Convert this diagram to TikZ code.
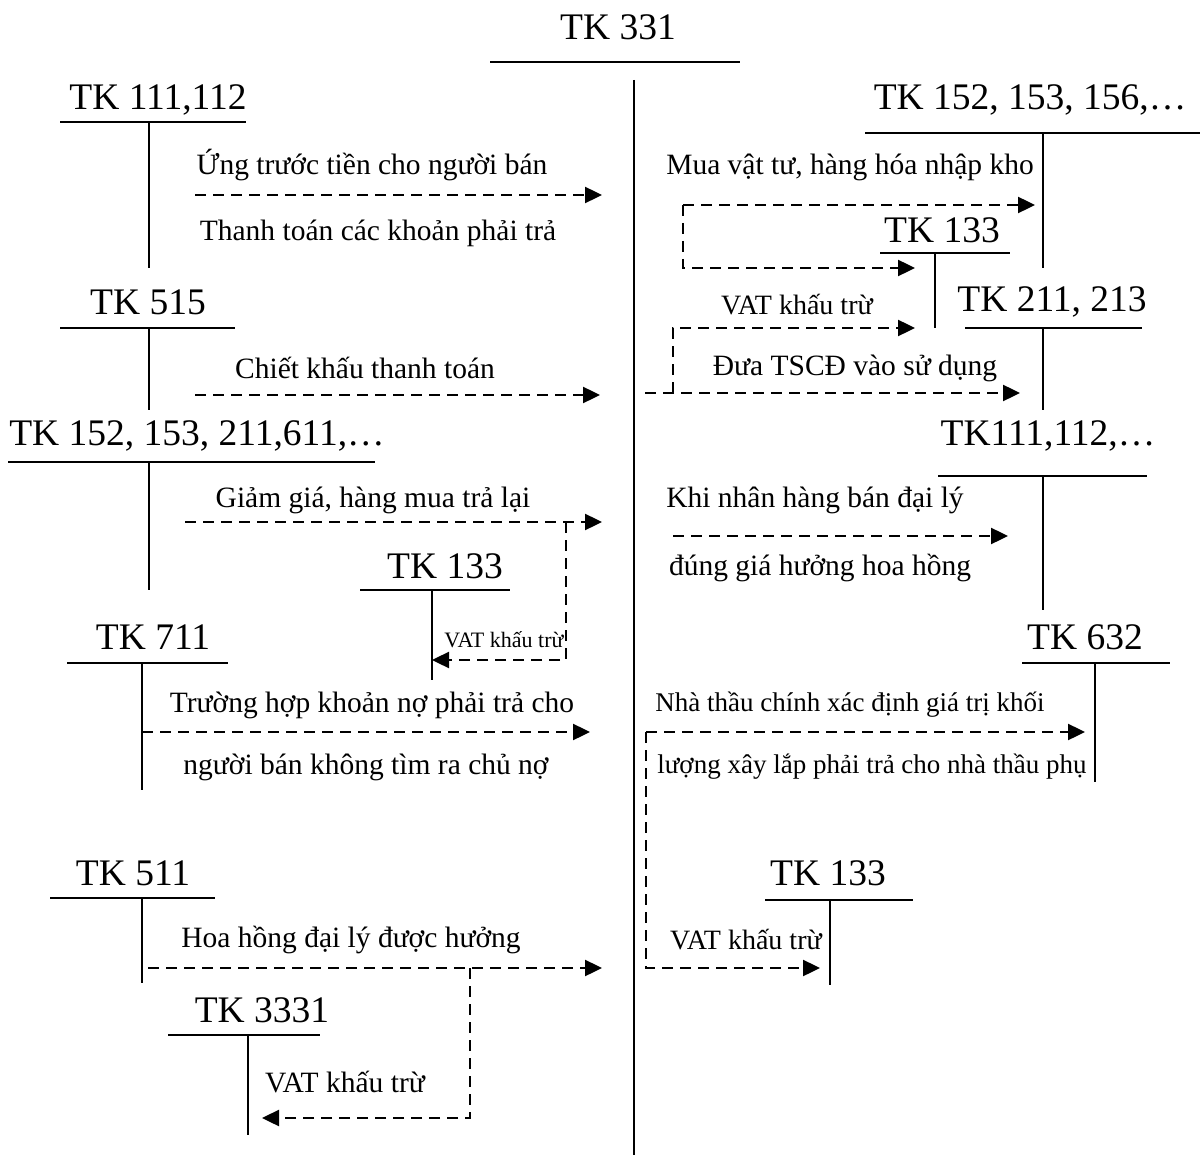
\documentclass[tikz,border=0pt]{standalone}
\usepackage{fontspec}
\setmainfont{Liberation Serif}
\usetikzlibrary{arrows.meta}
\begin{document}
\begin{tikzpicture}[x=1pt,y=-1pt,
  acct/.style={font=\fontsize{37.5}{40}\selectfont, inner sep=0pt},
  desc/.style={font=\fontsize{29.5}{32}\selectfont, inner sep=0pt},
  descsmall/.style={font=\fontsize{27}{30}\selectfont, inner sep=0pt},
  vat/.style={font=\fontsize{28}{30}\selectfont, inner sep=0pt},
  vatsmall/.style={font=\fontsize{22}{24}\selectfont, inner sep=0pt},
  rule/.style={line width=2pt},
  branch/.style={line width=2.4pt, dash pattern=on 11pt off 7pt},
  flow/.style={branch, -{Triangle[length=17pt,width=16pt]}},
]
\useasboundingbox (0,0) rectangle (1202,1155);

% main account
\node[acct] (t331) at (618,27) {TK 331};
\draw[rule] (490,62) coordinate (t331l) -- (740,62) coordinate (t331r);
\draw[rule] (634,80) coordinate (mtop) -- (634,1155) coordinate (mbot);

% ---------- left side ----------
\node[acct] (a111) at (158,100) {TK 111,112};
\draw[rule] (60,122) -- (246,122);
\draw[rule] (149,122) -- (149,268);
\node[desc] (d1) at (372,165) {Ứng trước tiền cho người bán};
\node[desc] (d2) at (378,233) {Thanh toán các khoản phải trả};
\coordinate (f1s) at (195,195); \coordinate (f1e) at (602,195);
\draw[flow] (f1s) -- (f1e);

\node[acct] (a515) at (148,302) {TK 515};
\draw[rule] (60,328) -- (235,328);
\draw[rule] (149,328) -- (149,410);
\node[desc] (d3) at (365,368) {Chiết khấu thanh toán};
\coordinate (f2s) at (195,395); \coordinate (f2e) at (600,395);
\draw[flow] (f2s) -- (f2e);

\node[acct] (a152l) at (197,436) {TK 152, 153, 211,611,…};
\draw[rule] (8,462) -- (375,462);
\draw[rule] (149,462) -- (149,590);
\node[desc] (d4) at (373,500) {Giảm giá, hàng mua trả lại};
\coordinate (f3s) at (185,522); \coordinate (f3e) at (602,522);
\draw[flow] (f3s) -- (f3e);

\node[acct] (a133l) at (445,566) {TK 133};
\draw[rule] (360,590) -- (510,590);
\draw[rule] (432,590) -- (432,680);
\node[vatsmall] (v1) at (504,640) {VAT khấu trừ};
\coordinate (b3s) at (566,522); \coordinate (b3e) at (432,660);
\draw[flow] (b3s) |- (b3e);

\node[acct] (a711) at (153,637) {TK 711};
\draw[rule] (67,663) -- (228,663);
\draw[rule] (142,663) -- (142,790);
\node[desc] (d5) at (372,705) {Trường hợp khoản nợ phải trả cho};
\node[desc] (d6) at (366,767) {người bán không tìm ra chủ nợ};
\coordinate (f4s) at (142,732); \coordinate (f4e) at (590,732);
\draw[flow] (f4s) -- (f4e);

\node[acct] (a511) at (133,873) {TK 511};
\draw[rule] (50,898) -- (215,898);
\draw[rule] (142,898) -- (142,983);
\node[desc] (d7) at (351,940) {Hoa hồng đại lý được hưởng};
\coordinate (f5s) at (148,968); \coordinate (f5e) at (602,968);
\draw[flow] (f5s) -- (f5e);

\node[acct] (a3331) at (262,1010) {TK 3331};
\draw[rule] (168,1035) -- (320,1035);
\draw[rule] (248,1035) -- (248,1135);
\node[desc] (v2) at (345,1082) {VAT khấu trừ};
\coordinate (b5s) at (470,968); \coordinate (b5e) at (262,1118);
\draw[flow] (b5s) |- (b5e);

% ---------- right side ----------
\node[acct] (a152r) at (1030,100) {TK 152, 153, 156,…};
\draw[rule] (865,133) -- (1200,133);
\draw[rule] (1043,133) -- (1043,268);
\node[desc] (d8) at (850,167) {Mua vật tư, hàng hóa nhập kho};
\coordinate (f6s) at (683,205); \coordinate (f6e) at (1035,205);
\draw[flow] (f6s) -- (f6e);
\coordinate (b6e) at (915,268);
\draw[flow] (f6s) |- (b6e);

\node[acct] (a133r) at (942,230) {TK 133};
\draw[rule] (880,253) -- (1010,253);
\draw[rule] (935,253) -- (935,328);
\node[vat] (v3) at (797,305) {VAT khấu trừ};

\node[acct] (a211) at (1052,302) {TK 211, 213};
\draw[rule] (965,328) -- (1142,328);
\draw[rule] (1043,328) -- (1043,410);
\node[desc] (d9) at (855,368) {Đưa TSCĐ vào sử dụng};
\coordinate (f7s) at (645,393); \coordinate (f7e) at (1020,393);
\draw[flow] (f7s) -- (f7e);
\coordinate (b7s) at (673,393); \coordinate (b7e) at (915,328);
\draw[flow] (b7s) |- (b7e);

\node[acct] (a111r) at (1048,436) {TK111,112,…};
\draw[rule] (938,476) -- (1147,476);
\draw[rule] (1043,476) -- (1043,610);
\node[desc] (d10) at (815,500) {Khi nhân hàng bán đại lý};
\node[desc] (d11) at (820,568) {đúng giá hưởng hoa hồng};
\coordinate (f8s) at (673,536); \coordinate (f8e) at (1008,536);
\draw[flow] (f8s) -- (f8e);

\node[acct] (a632) at (1085,637) {TK 632};
\draw[rule] (1022,663) -- (1170,663);
\draw[rule] (1095,663) -- (1095,782);
\node[descsmall] (d12) at (850,705) {Nhà thầu chính xác định giá trị khối};
\node[descsmall] (d13) at (872,767) {lượng xây lắp phải trả cho nhà thầu phụ};
\coordinate (f9s) at (646,732); \coordinate (f9e) at (1085,732);
\draw[flow] (f9s) -- (f9e);

\node[acct] (a133b) at (828,873) {TK 133};
\draw[rule] (765,900) -- (913,900);
\draw[rule] (830,900) -- (830,985);
\node[vat] (v4) at (746,940) {VAT khấu trừ};
\coordinate (b9e) at (820,968);
\draw[flow] (f9s) |- (b9e);
\end{tikzpicture}
\end{document}
